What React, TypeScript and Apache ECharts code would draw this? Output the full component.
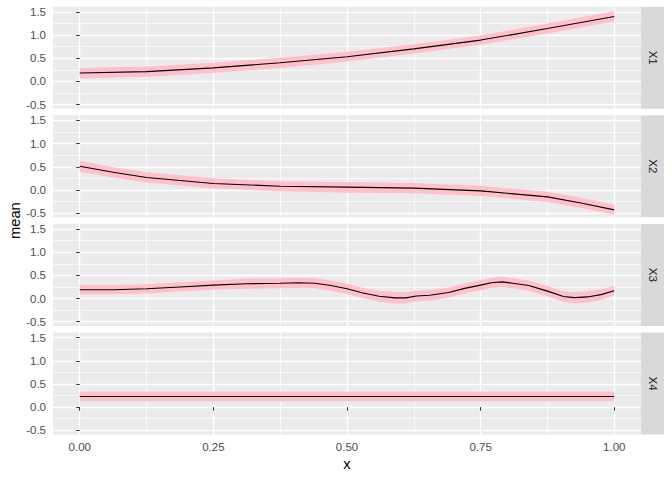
import React, { useEffect, useRef } from "react";
import * as echarts from "echarts";

const facets = ["X1", "X2", "X3", "X4"];
const xTicks = [0, 0.25, 0.5, 0.75, 1];
const xMinor = [0.125, 0.375, 0.625, 0.875];
const yTicks = [-0.5, 0, 0.5, 1, 1.5];
const yMinor = [-0.25, 0.25, 0.75, 1.25];

const xs1 = [0, 0.125, 0.25, 0.375, 0.5, 0.625, 0.75, 0.875, 1];
const mean1 = [0.18, 0.21, 0.29, 0.4, 0.53, 0.7, 0.89, 1.14, 1.4];
const lower1 = [0.06, 0.1, 0.18, 0.29, 0.43, 0.6, 0.79, 1.03, 1.29];
const upper1 = [0.29, 0.32, 0.4, 0.51, 0.64, 0.8, 0.99, 1.25, 1.51];

const xs2 = [0, 0.0625, 0.125, 0.25, 0.375, 0.5, 0.625, 0.75, 0.875, 0.9375, 1];
const mean2 = [0.51, 0.38, 0.27, 0.14, 0.08, 0.06, 0.04, -0.02, -0.15, -0.28, -0.43];
const lower2 = [0.39, 0.27, 0.16, 0.03, -0.03, -0.06, -0.07, -0.13, -0.26, -0.39, -0.53];
const upper2 = [0.63, 0.49, 0.38, 0.25, 0.19, 0.17, 0.15, 0.09, -0.04, -0.17, -0.32];

const xs3 = [0, 0.0625, 0.125, 0.1875, 0.25, 0.3125, 0.375, 0.41, 0.44, 0.47, 0.5, 0.53, 0.56, 0.59, 0.61, 0.63, 0.655, 0.69, 0.72, 0.75, 0.77, 0.79, 0.81, 0.84, 0.875, 0.905, 0.925, 0.95, 0.975, 1];
const mean3 = [0.19, 0.19, 0.21, 0.25, 0.29, 0.32, 0.33, 0.34, 0.33, 0.28, 0.21, 0.12, 0.05, 0.015, 0.015, 0.055, 0.07, 0.13, 0.22, 0.29, 0.34, 0.36, 0.33, 0.28, 0.16, 0.045, 0.02, 0.035, 0.085, 0.17];
const lower3 = [0.09, 0.09, 0.11, 0.15, 0.19, 0.21, 0.22, 0.23, 0.22, 0.17, 0.1, 0.01, -0.07, -0.105, -0.105, -0.06, -0.045, 0.02, 0.11, 0.18, 0.23, 0.25, 0.22, 0.17, 0.05, -0.07, -0.1, -0.085, -0.03, 0.07];
const upper3 = [0.29, 0.29, 0.31, 0.35, 0.39, 0.43, 0.44, 0.45, 0.44, 0.39, 0.32, 0.23, 0.17, 0.135, 0.135, 0.17, 0.185, 0.24, 0.33, 0.4, 0.45, 0.47, 0.44, 0.39, 0.27, 0.16, 0.14, 0.155, 0.2, 0.27];

const xs4 = [0, 1];
const mean4 = [0.23, 0.23];
const lower4 = [0.125, 0.125];
const upper4 = [0.33, 0.33];

const panels = [
  { xs: xs1, mean: mean1, lower: lower1, upper: upper1 },
  { xs: xs2, mean: mean2, lower: lower2, upper: upper2 },
  { xs: xs3, mean: mean3, lower: lower3, upper: upper3 },
  { xs: xs4, mean: mean4, lower: lower4, upper: upper4 },
];

const FONT = '"Liberation Sans", Arial, sans-serif';
const LEFT = 53;
const RIGHT_EDGE = 641;
const TOP0 = 6.7;
const PH = 102;
const STRIDE = 108.6;
const XMIN = -0.05;
const XMAX = 1.05;
const YMIN = -0.59;
const YMAX = 1.61;

export default function App() {
  const ref = useRef<HTMLDivElement>(null);
  useEffect(() => {
    const chart = echarts.init(ref.current!, null, { renderer: "svg" });
    const grids: any[] = [];
    const xAxes: any[] = [];
    const yAxes: any[] = [];
    const series: any[] = [];
    const graphics: any[] = [];

    panels.forEach((p, i) => {
      const top = TOP0 + i * STRIDE;
      const isBottom = i === panels.length - 1;
      grids.push({
        left: LEFT,
        right: 672 - RIGHT_EDGE,
        top,
        height: PH,
        show: true,
        backgroundColor: "#EBEBEB",
        borderWidth: 0,
      });
      xAxes.push({
        type: "value",
        gridIndex: i,
        min: XMIN,
        max: XMAX,
        axisLine: { show: false },
        axisTick: {
          show: isBottom,
          customValues: xTicks,
          length: 3.5,
          lineStyle: { color: "#333333", width: 1 },
        },
        axisLabel: {
          show: isBottom,
          customValues: xTicks,
          margin: 6,
          color: "#4D4D4D",
          fontSize: 11.5,
          fontFamily: FONT,
          formatter: (v: number) => v.toFixed(2),
        },
        splitLine: { show: true, lineStyle: { color: "#FFFFFF", width: 1.4 } },
      });
      yAxes.push({
        type: "value",
        gridIndex: i,
        min: YMIN,
        max: YMAX,
        axisLine: { show: false },
        axisTick: {
          show: true,
          customValues: yTicks,
          length: 3.5,
          lineStyle: { color: "#333333", width: 1 },
        },
        axisLabel: {
          show: true,
          customValues: yTicks,
          margin: 7,
          color: "#4D4D4D",
          fontSize: 11.5,
          fontFamily: FONT,
          formatter: (v: number) => v.toFixed(1),
        },
        splitLine: { show: true, lineStyle: { color: "#FFFFFF", width: 1.4 } },
      });

      graphics.push({
        type: "rect",
        shape: { x: RIGHT_EDGE, y: top, width: 23, height: PH },
        style: { fill: "#D9D9D9" },
        silent: true,
      });
      graphics.push({
        type: "text",
        x: RIGHT_EDGE + 11.5,
        y: top + PH / 2,
        rotation: -Math.PI / 2,
        style: {
          text: facets[i],
          fill: "#1A1A1A",
          fontSize: 11.5,
          fontFamily: FONT,
          align: "center",
          verticalAlign: "middle",
        },
        silent: true,
      });
    });

    // minor grid axes
    panels.forEach((p, i) => {
      xAxes.push({
        type: "value",
        gridIndex: i,
        position: "top",
        min: XMIN,
        max: XMAX,
        axisLine: { show: false },
        axisTick: { show: false, customValues: xMinor },
        axisLabel: { show: false, customValues: xMinor },
        splitLine: { show: true, lineStyle: { color: "#FFFFFF", width: 0.7 } },
      });
      yAxes.push({
        type: "value",
        gridIndex: i,
        position: "right",
        min: YMIN,
        max: YMAX,
        axisLine: { show: false },
        axisTick: { show: false, customValues: yMinor },
        axisLabel: { show: false, customValues: yMinor },
        splitLine: { show: true, lineStyle: { color: "#FFFFFF", width: 0.7 } },
      });
    });

    panels.forEach((p, i) => {
      series.push({
        type: "custom",
        xAxisIndex: i,
        yAxisIndex: i,
        data: [[p.xs[0], p.mean[0]]],
        silent: true,
        z: 2,
        renderItem: (_params: any, api: any) => {
          const pts: number[][] = [];
          for (let k = 0; k < p.xs.length; k++) pts.push(api.coord([p.xs[k], p.upper[k]]));
          for (let k = p.xs.length - 1; k >= 0; k--) pts.push(api.coord([p.xs[k], p.lower[k]]));
          return {
            type: "polygon",
            shape: { points: pts },
            style: { fill: "#FFC0CB", stroke: "none" },
          };
        },
      });
      series.push({
        type: "line",
        xAxisIndex: i,
        yAxisIndex: i,
        data: p.xs.map((x, k) => [x, p.mean[k]]),
        symbol: "none",
        smooth: false,
        lineStyle: { color: "#000000", width: 1.1 },
        silent: true,
        z: 3,
      });
    });

    graphics.push({
      type: "text",
      x: 15,
      y: TOP0 + (3 * STRIDE + PH) / 2,
      rotation: Math.PI / 2,
      style: {
        text: "mean",
        fill: "#000000",
        fontSize: 14.7,
        fontFamily: FONT,
        align: "center",
        verticalAlign: "middle",
      },
      silent: true,
    });
    graphics.push({
      type: "text",
      x: (LEFT + RIGHT_EDGE) / 2,
      y: 464,
      style: {
        text: "x",
        fill: "#000000",
        fontSize: 14.7,
        fontFamily: FONT,
        align: "center",
        verticalAlign: "middle",
      },
      silent: true,
    });

    chart.setOption({
      animation: false,
      backgroundColor: "#FFFFFF",
      grid: grids,
      xAxis: xAxes,
      yAxis: yAxes,
      series,
      graphic: graphics,
    });
    return () => chart.dispose();
  }, []);
  return (
    <div
      ref={ref}
      style={{ width: 672, height: 480, position: "fixed", left: 0, top: 0 }}
    />
  );
}
